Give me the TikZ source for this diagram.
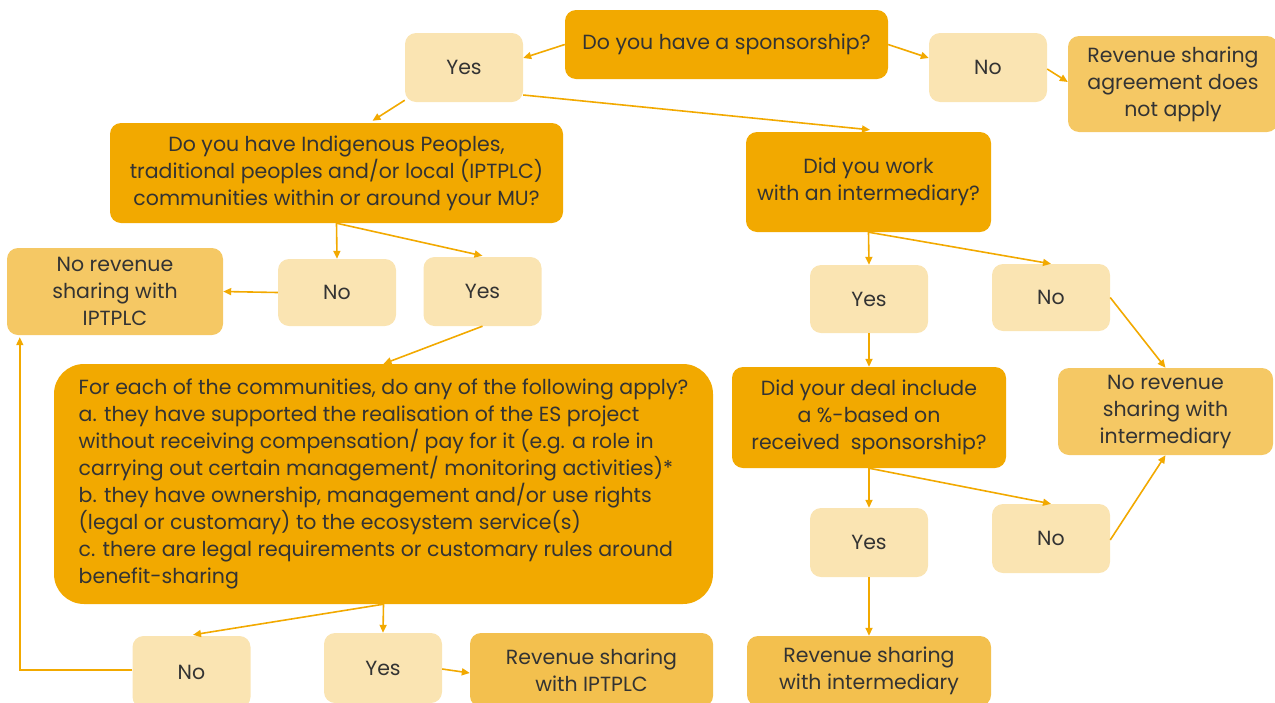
\documentclass[tikz,border=0pt]{standalone}
\usepackage{fontspec}
\setmainfont{Poppins}
\usetikzlibrary{arrows.meta,calc}
\definecolor{qfill}{RGB}{242,169,0}
\definecolor{afill}{RGB}{250,228,178}
\definecolor{tfill}{RGB}{245,200,100}
\definecolor{tfillb}{RGB}{243,192,78}
\definecolor{ink}{RGB}{51,51,51}
\definecolor{wire}{RGB}{242,169,0}
\tikzset{
  base/.style={rounded corners=11pt, inner sep=0pt, align=center, text=ink,
    font=\fontsize{20.5}{27}\selectfont},
  qbox/.style={base, fill=qfill},
  abox/.style={base, fill=afill, minimum width=118pt, minimum height=69pt},
  tbox/.style={base, fill=tfill},
  tboxb/.style={base, fill=tfillb},
  link/.style={draw=wire, line width=1.6pt, -{Triangle[length=8pt,width=7pt]}},
}
\begin{document}
\begin{tikzpicture}[x=1pt,y=-1pt]
\useasboundingbox (0,0) rectangle (1275,702);
\clip (0,0) rectangle (1275,702);

% decision boxes
\node[qbox, minimum width=323pt, minimum height=69pt] (q1) at (726.5,44.5) {Do you have a sponsorship?};
\node[qbox, minimum width=453pt, minimum height=100pt] (q2) at (336.5,173)
  {Do you have Indigenous Peoples,\\traditional peoples and/or local (IPTPLC)\\communities within or around your MU?};
\node[qbox, minimum width=245pt, minimum height=100pt] (q3) at (868.5,182) {Did you work\\with an intermediary?};
\node[qbox, minimum width=659pt, minimum height=240pt, rounded corners=30pt, align=left] (q4) at (383.5,484)
  {For each of the communities, do any of the following apply?\\
   a. they have supported the realisation of the ES project\\
   without receiving compensation/ pay for it (e.g. a role in\\
   carrying out certain management/ monitoring activities)*\\
   b. they have ownership, management and/or use rights\\
   (legal or customary) to the ecosystem service(s)\\
   c. there are legal requirements or customary rules around\\
   benefit-sharing};
\node[qbox, minimum width=274pt, minimum height=101pt] (q5) at (869,417.5)
  {Did your deal include\\a \%-based on\\received\ \ sponsorship?};

% answer boxes
\node[abox] (yes1) at (464,67.5) {Yes};
\node[abox] (no1) at (988,67.5) {No};
\node[abox, minimum height=67pt] (no2) at (337,292.5) {No};
\node[abox] (yes2) at (482.5,291.5) {Yes};
\node[abox, minimum height=68pt] (yes3) at (869,299) {Yes};
\node[abox, minimum height=67pt] (no3) at (1051,297.5) {No};
\node[abox] (yes4) at (869,542.5) {Yes};
\node[abox] (no4) at (1051,538.5) {No};
\node[abox, minimum height=72pt] (no5) at (191.5,672) {No};
\node[abox, minimum height=70pt] (yes5) at (383,668) {Yes};

% outcome boxes
\node[tbox, minimum width=210pt, minimum height=96pt] (t1) at (1173,84)
  {Revenue sharing\\agreement does\\not apply};
\node[tbox, minimum width=216pt, minimum height=87pt] (t2) at (115,291.5)
  {No revenue\\sharing with\\IPTPLC};
\node[tbox, minimum width=215pt, minimum height=87pt] (t3) at (1165.5,411.5)
  {No revenue\\sharing with\\intermediary};
\node[tboxb, minimum width=243pt, minimum height=74pt] (t4) at (591.5,670)
  {Revenue sharing\\with IPTPLC};
\node[tboxb, minimum width=244pt, minimum height=70pt] (t5) at (869,671)
  {Revenue sharing\\with intermediary};

% connectors
\draw[link] (q1.west) -- ([yshift=9.5pt]yes1.east);
\draw[link] (q1.east) -- ([yshift=9.5pt]no1.west);
\draw[link] ([yshift=-1.5pt]no1.east) -- ([yshift=2pt]t1.west);
\draw[link] ([yshift=2pt]yes1.south west) -- ([xshift=36pt,yshift=2pt]q2.north);
\draw[link] ([yshift=-27.5pt]yes1.east) -- ([xshift=1.5pt,yshift=2pt]q3.north);
\draw[link] (q2.south) -- (no2.north);
\draw[link] (q2.south) -- ([yshift=1pt]yes2.north);
\draw[link] (no2.west) -- (t2.east);
\draw[link] (yes2.south) -- (q4.north);
\draw[link] (q4.south) -- (yes5.north);
\draw[link] (q4.south) -- ([xshift=1.5pt,yshift=1pt]no5.north);
\draw[link] ([yshift=2pt]no5.west) -| ([xshift=13pt,yshift=-2pt]t2.south west);
\draw[link] ([yshift=-1pt]yes5.east) -- ([yshift=-3pt]t4.west);
\draw[link] (q3.south) -- (yes3.north);
\draw[link] (q3.south) -- (no3.north);
\draw[link] (no3.east) -- (t3.north);
\draw[link] (yes3.south) -- (q5.north);
\draw[link] (q5.south) -- (yes4.north);
\draw[link] (q5.south) -- (no4.north);
\draw[link] ([yshift=-1.5pt]no4.east) -- (t3.south);
\draw[link] (yes4.south) -- (t5.north);
\end{tikzpicture}
\end{document}
